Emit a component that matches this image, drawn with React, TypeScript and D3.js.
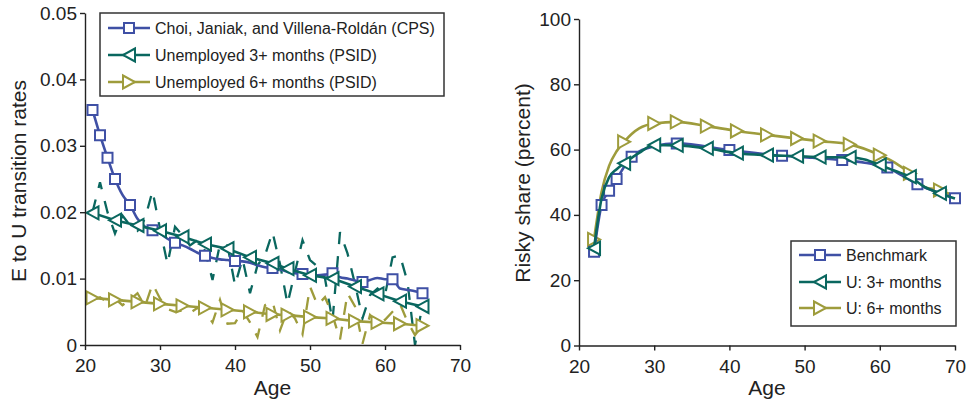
import { useEffect, useRef } from 'react';
import * as d3 from 'd3';

const W = 967;
const H = 405;
const FONT = '"Liberation Sans", Arial, Helvetica, sans-serif';
const BLUE = '#3f50a5';
const TEAL = '#0a675f';
const OLIVE = '#9e9c3c';

// ---- left panel: E to U transition rates ----
const rawAges = [21, 22, 23, 24, 25, 26, 27, 28, 29, 30, 31, 32, 33, 34, 35, 36, 37, 38, 39, 40, 41, 42, 43, 44, 45,
    46, 47, 48, 49, 50, 51, 52, 53, 54, 55, 56, 57, 58, 59, 60, 61, 62, 63, 64, 65];
const cpsVals = [0.0354, 0.0316, 0.0282, 0.025, 0.0226, 0.0211, 0.019, 0.0178, 0.0173, 0.0168, 0.016, 0.0154, 0.015,
    0.0145, 0.0139, 0.01345, 0.0131, 0.0129, 0.0128, 0.01265, 0.0126, 0.0124, 0.012, 0.0117, 0.0116, 0.0114, 0.011,
    0.0108, 0.0107, 0.0106, 0.0105, 0.0106, 0.0108, 0.0102, 0.01, 0.0097, 0.0095, 0.0098, 0.0101, 0.0099, 0.0099,
    0.0085, 0.0083, 0.0081, 0.0078];
const cpsMarks = [21, 22, 23, 24, 26, 29, 32, 36, 40, 45, 49, 53, 57, 61, 65];
const psid3Raw = [0.02, 0.0245, 0.02, 0.0168, 0.0195, 0.018, 0.0172, 0.019, 0.0232, 0.0175, 0.0122, 0.0178, 0.0165,
    0.015, 0.0158, 0.0142, 0.0098, 0.0152, 0.015, 0.009, 0.013, 0.0078, 0.012, 0.0135, 0.017, 0.0122, 0.0062, 0.011,
    0.0158, 0.0128, 0.0118, 0.01, 0.0036, 0.017, 0.0138, 0.0092, 0.004, 0.0075, 0.0085, 0.0075, 0.0132, 0.0135,
    0.0095, 0.0, 0.006];
const psid6Raw = [0.0068, 0.0072, 0.0064, 0.007, 0.006, 0.0068, 0.0078, 0.0058, 0.0092, 0.007, 0.0054, 0.005, 0.0052,
    0.0048, 0.0056, 0.005, 0.0034, 0.0068, 0.0032, 0.0033, 0.0052, 0.0034, 0.0012, 0.006, 0.0066, 0.0022, 0.0052,
    0.004, 0.0016, 0.0088, 0.006, 0.0072, 0.0045, 0.0008, 0.0078, 0.0058, 0.0002, 0.0045, 0.003, 0.0038, 0.005,
    0.0062, 0.0035, 0.0015, 0.003];
const smoothAges = [21, 24, 27, 30, 33, 36, 39, 42, 45, 47, 50, 53, 56, 59, 62, 65];
const psid3Smooth = [0.0199, 0.0188, 0.018, 0.0172, 0.0163, 0.0152, 0.0145, 0.0132, 0.0123, 0.0115, 0.0105, 0.01,
    0.0088, 0.0077, 0.0066, 0.0058];
const psid6Smooth = [0.0071, 0.0068, 0.0065, 0.0062, 0.0059, 0.0056, 0.0053, 0.005, 0.0046, 0.0045, 0.0042, 0.004,
    0.0036, 0.0034, 0.0032, 0.0029];
const leftTicks = [0, 0.01, 0.02, 0.03, 0.04, 0.05];

// ---- right panel: risky share ----
const benchAges = [22, 23, 24, 25, 27, 30, 33, 40, 47, 51, 55, 58, 61, 63, 65, 67, 70];
const benchVals = [28.7, 43, 47.4, 51, 57.8, 61, 61.9, 59.9, 58.1, 57.5, 56.8, 56, 54.5, 52, 49.4, 47.5, 45.1];
const benchMarks = [22, 23, 24, 25, 27, 33, 40, 47, 55, 61, 65, 70];
const u3Ages = [22, 23, 24, 25, 26, 28, 30, 33, 37, 41, 45, 49, 52, 56, 58, 60, 62, 64, 66, 68, 70];
const u3Vals = [29.8, 45, 51.5, 54, 55.8, 59, 61.4, 61.3, 60.4, 58.9, 58.3, 58, 57.7, 57.6, 57, 55.3, 53.5, 51.7,
    48.5, 46.6, 45];
const u3Marks = [22, 26, 30, 33, 37, 41, 45, 49, 52, 56, 60, 64, 68];
const u6Ages = [22, 23, 24, 25, 26, 27, 28, 30, 33, 37, 41, 45, 49, 52, 56, 60, 62, 64, 66, 68, 70];
const u6Vals = [32.5, 47, 55, 59.5, 62.4, 64.8, 66.5, 68, 68.5, 67.2, 65.7, 64.5, 63.4, 62.6, 61.6, 58.3, 56, 52.7,
    48.5, 47.6, 45.5];
const u6Marks = [22, 26, 30, 33, 37, 41, 45, 49, 52, 56, 60, 64, 68];
const rightTicks = [0, 20, 40, 60, 80, 100];
const ageTicks = [20, 30, 40, 50, 60, 70];

type Shape = 'square' | 'left' | 'right';

const markerPath = (shape: Shape) => {
    if (shape === 'square') return 'M-5,-5H5V5H-5Z';
    if (shape === 'left') return 'M6,-6.5L-6,0L6,6.5Z';
    return 'M-6,-6.5L6,0L-6,6.5Z';
};

const App = () => {
    const svgRef = useRef<SVGSVGElement>(null);

    useEffect(() => {
        const svg = d3.select(svgRef.current);
        svg.selectAll('*').remove();
        svg.attr('width', W).attr('height', H).style('font-family', FONT);

        const drawAxes = (
            x: d3.ScaleLinear<number, number>,
            y: d3.ScaleLinear<number, number>,
            yTicks: number[],
            yFmt: (d: number) => string,
            yTitle: string,
            yTitleX: number,
            yTitleY: number
        ) => {
            const [y0] = y.range();
            const [x0] = x.range();
            const gx = svg
                .append('g')
                .attr('transform', `translate(0,${y0})`)
                .call(d3.axisBottom(x).tickValues(ageTicks).tickSize(5).tickSizeOuter(0).tickPadding(9)
                    .tickFormat(d => String(d)));
            const gy = svg
                .append('g')
                .attr('transform', `translate(${x0},0)`)
                .call(d3.axisLeft(y).tickValues(yTicks).tickSize(5).tickSizeOuter(0).tickPadding(3)
                    .tickFormat(d => yFmt(+d)));
            [gx, gy].forEach(g => {
                g.attr('font-family', FONT).attr('font-size', 19);
                g.selectAll('path.domain').attr('stroke', '#222').attr('stroke-width', 1.4);
                g.selectAll('line').attr('stroke', '#222').attr('stroke-width', 1.4);
                g.selectAll('text').attr('fill', '#222');
            });
            svg.append('text')
                .attr('x', (x.range()[0] + x.range()[1]) / 2)
                .attr('y', 395)
                .attr('text-anchor', 'middle')
                .attr('font-size', 21)
                .attr('fill', '#222')
                .text('Age');
            svg.append('text')
                .attr('transform', `translate(${yTitleX},${yTitleY}) rotate(-90)`)
                .attr('text-anchor', 'middle')
                .attr('font-size', 21)
                .attr('fill', '#222')
                .text(yTitle);
        };

        const drawSeries = (
            x: d3.ScaleLinear<number, number>,
            y: d3.ScaleLinear<number, number>,
            ages: number[],
            vals: number[],
            color: string,
            opts: { dashed?: boolean; curve?: d3.CurveFactory; marks?: number[]; shape?: Shape }
        ) => {
            const pts = ages.map((a, i) => [a, vals[i]] as [number, number]);
            const line = d3
                .line<[number, number]>()
                .x(d => x(d[0]))
                .y(d => y(d[1]))
                .curve(opts.curve ?? d3.curveLinear);
            svg.append('path')
                .attr('d', line(pts))
                .attr('fill', 'none')
                .attr('stroke', color)
                .attr('stroke-width', opts.dashed ? 2.3 : 2.6)
                .attr('stroke-dasharray', opts.dashed ? '13,12' : null);
            if (opts.marks && opts.shape) {
                const shape = opts.shape;
                svg.append('g')
                    .selectAll('path')
                    .data(pts.filter(p => opts.marks!.includes(p[0])))
                    .join('path')
                    .attr('transform', d => `translate(${x(d[0])},${y(d[1])})`)
                    .attr('d', markerPath(shape))
                    .attr('fill', 'white')
                    .attr('stroke', color)
                    .attr('stroke-width', 2);
            }
        };

        const drawLegend = (
            bx: number,
            by: number,
            bw: number,
            bh: number,
            rows: number[],
            items: { label: string; color: string; shape: Shape }[]
        ) => {
            svg.append('rect')
                .attr('x', bx)
                .attr('y', by)
                .attr('width', bw)
                .attr('height', bh)
                .attr('fill', 'white')
                .attr('stroke', '#333')
                .attr('stroke-width', 1.5);
            items.forEach((it, i) => {
                const cy = rows[i];
                svg.append('line')
                    .attr('x1', bx + 8)
                    .attr('x2', bx + 50)
                    .attr('y1', cy)
                    .attr('y2', cy)
                    .attr('stroke', it.color)
                    .attr('stroke-width', 2.6);
                svg.append('path')
                    .attr('transform', `translate(${bx + 29},${cy})`)
                    .attr('d', markerPath(it.shape))
                    .attr('fill', 'white')
                    .attr('stroke', it.color)
                    .attr('stroke-width', 2);
                svg.append('text')
                    .attr('x', bx + 55)
                    .attr('y', cy + 5.8)
                    .attr('font-size', 16)
                    .attr('fill', '#222')
                    .text(it.label);
            });
        };

        // left panel
        const xL = d3.scaleLinear().domain([20, 70]).range([85, 460]);
        const yL = d3.scaleLinear().domain([0, 0.05]).range([345, 13]);
        drawSeries(xL, yL, rawAges, psid3Raw, TEAL, { dashed: true });
        drawSeries(xL, yL, rawAges, psid6Raw, OLIVE, { dashed: true });
        drawSeries(xL, yL, rawAges, cpsVals, BLUE, { curve: d3.curveMonotoneX, marks: cpsMarks, shape: 'square' });
        drawSeries(xL, yL, smoothAges, psid3Smooth, TEAL, { marks: smoothAges, shape: 'left' });
        drawSeries(xL, yL, smoothAges, psid6Smooth, OLIVE, { marks: smoothAges, shape: 'right' });
        drawAxes(xL, yL, leftTicks, d => (d === 0 ? '0' : d3.format('.2f')(d)), 'E to U transition rates', 26, 181);
        drawLegend(100, 13, 344, 83, [28, 55, 82], [
            { label: 'Choi, Janiak, and Villena-Roldán (CPS)', color: BLUE, shape: 'square' },
            { label: 'Unemployed 3+ months (PSID)', color: TEAL, shape: 'left' },
            { label: 'Unemployed 6+ months (PSID)', color: OLIVE, shape: 'right' },
        ]);

        // right panel
        const xR = d3.scaleLinear().domain([20, 70]).range([579, 955]);
        const yR = d3.scaleLinear().domain([0, 100]).range([345.5, 19]);
        drawSeries(xR, yR, u6Ages, u6Vals, OLIVE, { curve: d3.curveMonotoneX, marks: u6Marks, shape: 'right' });
        drawSeries(xR, yR, benchAges, benchVals, BLUE, { curve: d3.curveMonotoneX, marks: benchMarks, shape: 'square' });
        drawSeries(xR, yR, u3Ages, u3Vals, TEAL, { curve: d3.curveMonotoneX, marks: u3Marks, shape: 'left' });
        drawAxes(xR, yR, rightTicks, d => String(d), 'Risky share (percent)', 530, 183);
        drawLegend(791, 241, 165, 85, [255, 282, 308], [
            { label: 'Benchmark', color: BLUE, shape: 'square' },
            { label: 'U: 3+ months', color: TEAL, shape: 'left' },
            { label: 'U: 6+ months', color: OLIVE, shape: 'right' },
        ]);
    }, []);

    return (
        <div style={{ position: 'absolute', left: 0, top: 0, width: W, height: H, background: 'white' }}>
            <svg ref={svgRef}></svg>
        </div>
    );
};

export default App;
